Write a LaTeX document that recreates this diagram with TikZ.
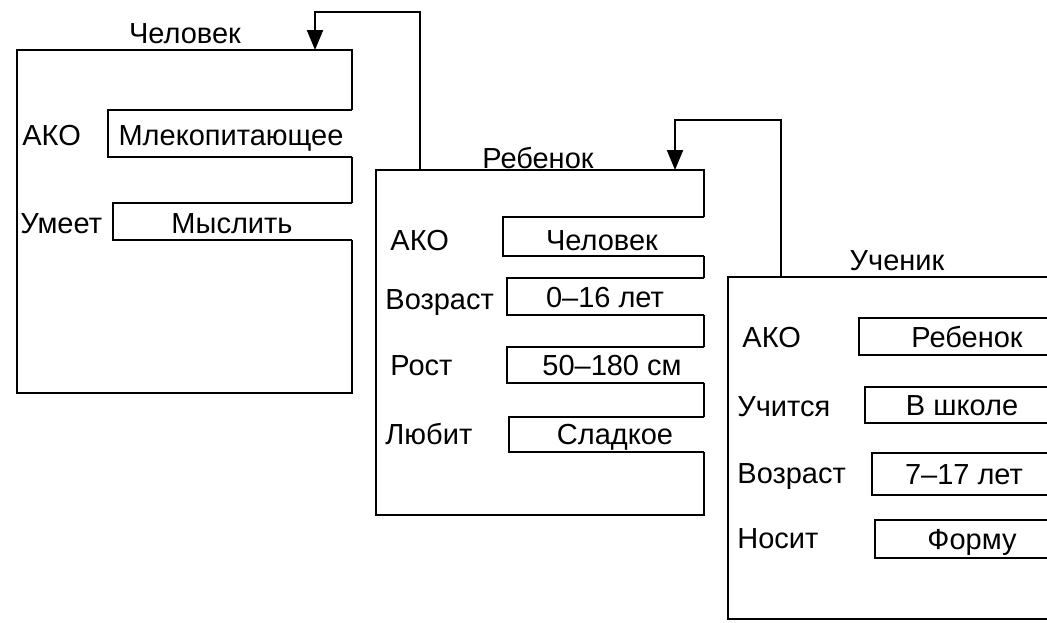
\documentclass[tikz,border=0pt]{standalone}
\usepackage{fontspec}
\setmainfont{Liberation Sans}
\usetikzlibrary{arrows.meta}

\tikzset{
  frame/.style={draw,line width=1.2pt,fill=white},
  slotline/.style={line width=1.2pt},
  lbl/.style={anchor=west,inner sep=0pt,text height=10pt,text depth=0pt,
    font=\fontsize{14.5}{16}\selectfont},
  val/.style={inner sep=0pt,text height=10pt,text depth=0pt,
    font=\fontsize{14.5}{16}\selectfont},
  link/.style={line width=1pt,-{Triangle[width=8pt,length=10pt]}}
}
% slot: left, top, bottom, right edge of its frame
\newcommand\slotbox[4]{%
  \fill[white] (#1,#2) rectangle (#4+4,#3);
  \draw[slotline] (#4,#2) -- (#1,#2) -- (#1,#3) -- (#4,#3);
}

\begin{document}
\begin{tikzpicture}[x=0.5pt,y=-0.5pt,line join=miter]
  \clip (0,0) rectangle (1047,622);
  \fill[white] (0,0) rectangle (1047,622);

  % frame: Человек
  \draw[frame] (17,50) rectangle (352,393);
  \slotbox{108}{110}{157}{352}
  \slotbox{113}{203}{240}{352}
  \node[val] (t1) at (185,33) {Человек};
  \node[lbl] (ako1) at (22,135) {АКО};
  \node[val] (v11) at (231,135) {Млекопитающее};
  \node[lbl] (can1) at (20,223) {Умеет};
  \node[val] (v12) at (232,223) {Мыслить};

  % frame: Ребенок
  \draw[frame] (376,170) rectangle (704,515);
  \slotbox{503}{217}{256}{704}
  \slotbox{507}{278}{315}{704}
  \slotbox{507}{347}{383}{704}
  \slotbox{509}{417}{452}{704}
  \node[val] (t2) at (538,158) {Ребенок};
  \node[lbl] (ako2) at (390,240) {АКО};
  \node[val] (v21) at (602,240) {Человек};
  \node[lbl] (age2) at (385,299) {Возраст};
  \node[val] (v22) at (605,297) {0–16 лет};
  \node[lbl] (h2) at (390,365) {Рост};
  \node[val] (v23) at (612,365) {50–180 см};
  \node[lbl] (love2) at (385,434) {Любит};
  \node[val] (v24) at (615,434) {Сладкое};

  % frame: Ученик
  \draw[frame] (728,277) rectangle (1060,619);
  \slotbox{859}{318}{355}{1060}
  \slotbox{865}{387}{423}{1060}
  \slotbox{872}{453}{495}{1060}
  \slotbox{875}{520}{558}{1060}
  \node[val] (t3) at (897,260) {Ученик};
  \node[lbl] (ako3) at (742,337) {АКО};
  \node[val] (v31) at (967,337) {Ребенок};
  \node[lbl] (learn3) at (737,406) {Учится};
  \node[val] (v32) at (962,405) {В школе};
  \node[lbl] (age3) at (737,473) {Возраст};
  \node[val] (v33) at (964,474) {7–17 лет};
  \node[lbl] (wear3) at (737,538) {Носит};
  \node[val] (v34) at (972,539) {Форму};

  % AKO links
  \coordinate (in1) at (315,50);
  \coordinate (turn1) at (315,12);
  \coordinate (out2) at (420,170);
  \coordinate (in2) at (675,170);
  \coordinate (turn2) at (675,120);
  \coordinate (out3) at (781,277);
  \draw[link] (out2) |- (turn1) -- (in1);
  \draw[link] (out3) |- (turn2) -- (in2);
\end{tikzpicture}
\end{document}
